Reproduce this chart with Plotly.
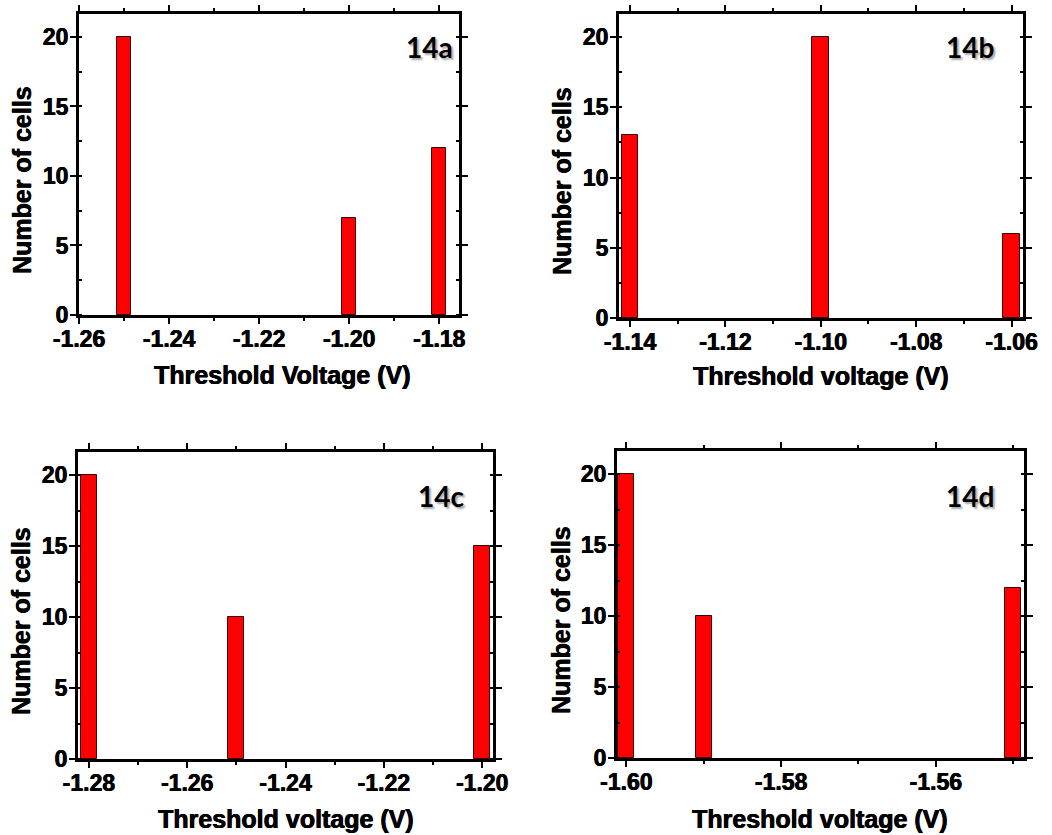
import plotly.graph_objects as go

# Threshold-voltage histograms (counts of cells per voltage bin)
volt_a = [-1.25, -1.20, -1.18]
count_a = [20, 7, 12]
volt_b = [-1.14, -1.10, -1.06]
count_b = [13, 20, 6]
volt_c = [-1.28, -1.25, -1.20]
count_c = [20, 10, 15]
volt_d = [-1.60, -1.59, -1.55]
count_d = [20, 10, 12]

ticks_a = [-1.26, -1.24, -1.22, -1.20, -1.18]
ticklab_a = ["-1.26", "-1.24", "-1.22", "-1.20", "-1.18"]
ticks_b = [-1.14, -1.12, -1.10, -1.08, -1.06]
ticklab_b = ["-1.14", "-1.12", "-1.10", "-1.08", "-1.06"]
ticks_c = [-1.28, -1.26, -1.24, -1.22, -1.20]
ticklab_c = ["-1.28", "-1.26", "-1.24", "-1.22", "-1.20"]
ticks_d = [-1.60, -1.58, -1.56]
ticklab_d = ["-1.60", "-1.58", "-1.56"]

y_ticks = [0, 5, 10, 15, 20]

panel_labels = ["14a", "14b", "14c", "14d"]
x_titles = ["Threshold Voltage (V)", "Threshold voltage (V)",
            "Threshold voltage (V)", "Threshold voltage (V)"]
y_title = "Number of cells"

W, H = 1052, 835


def px_x(p):
    return p / W


def px_y(p):
    return 1 - p / H


def bold(s):
    return "<b>" + s + "</b>"


# pixel boxes of each plot area: left, right, top, bottom
boxes = [
    (79, 459, 14, 315),
    (619, 1023, 14, 318),
    (78, 493, 452, 759),
    (617, 1024, 451, 758),
]
x_ranges = [(-1.26, -1.1756), (-1.1423, -1.0576), (-1.2822, -1.1978), (-1.6012, -1.5486)]
bar_widths = [0.0031, 0.0035, 0.0033, 0.0021]
data = [(volt_a, count_a, ticks_a, ticklab_a),
        (volt_b, count_b, ticks_b, ticklab_b),
        (volt_c, count_c, ticks_c, ticklab_c),
        (volt_d, count_d, ticks_d, ticklab_d)]
x_title_pos = [(282, 375), (821, 376), (286, 819), (820, 819)]
y_title_pos = [(22, 180), (562, 181), (21, 621), (561, 620)]
label_pos = [(429, 47), (970, 47), (441, 496), (970, 496)]

HEAVY = "0.5px 0 0 black, -0.3px 0 0 black"
TICK_FONT = dict(family="Liberation Sans, Arial, sans-serif", size=23, color="black", shadow=HEAVY)
TITLE_FONT = dict(family="Liberation Sans, Arial, sans-serif", size=25, color="black", shadow=HEAVY)
LABEL_FONT = dict(family="Lato, Open Sans, sans-serif", size=28, color="black",
                  shadow="2px 2px 2px rgba(0,0,0,0.35)")

fig = go.Figure()
layout = dict(
    width=W, height=H,
    margin=dict(l=0, r=0, t=0, b=0, pad=0, autoexpand=False),
    paper_bgcolor="white", plot_bgcolor="white",
    showlegend=False,
    bargap=0,
)
annotations = []

for i, ((vx, cy, tv, tl), box, xr, bw) in enumerate(zip(data, boxes, x_ranges, bar_widths)):
    n = "" if i == 0 else str(i + 1)
    xa, ya = "x" + n, "y" + n
    fig.add_trace(go.Bar(
        x=vx, y=cy, width=bw,
        marker=dict(color="#ff0000", line=dict(color="#3a0000", width=1)),
        xaxis=xa, yaxis=ya,
    ))
    left, right, top, bottom = box
    layout["xaxis" + n] = dict(
        domain=[px_x(left), px_x(right)], range=list(xr), anchor=ya,
        automargin=False,
        showline=True, linecolor="black", linewidth=3, mirror="ticks",
        ticks="outside", ticklen=6, tickwidth=2, tickcolor="black",
        tickvals=tv, ticktext=[bold(t) for t in tl], tickfont=TICK_FONT,
        ticklabelstandoff=-5,
        minor=dict(ticks="outside", ticklen=3, tickwidth=1.5, tickcolor="black",
                   tick0=tv[0], dtick=0.01),
        showgrid=False, zeroline=False, fixedrange=True,
    )
    layout["yaxis" + n] = dict(
        domain=[px_y(bottom), px_y(top)], range=[0, 21.65], anchor=xa,
        automargin=False,
        showline=True, linecolor="black", linewidth=3, mirror="ticks",
        ticks="outside", ticklen=6, tickwidth=2, tickcolor="black",
        tickvals=y_ticks, ticktext=[bold(str(v)) for v in y_ticks], tickfont=TICK_FONT,
        ticklabelstandoff=-3,
        minor=dict(ticks="inside", ticklen=3, tickwidth=1.5, tickcolor="black",
                   tick0=0, dtick=2.5),
        showgrid=False, zeroline=False, fixedrange=True,
    )
    tx, ty = x_title_pos[i]
    annotations.append(dict(text=bold(x_titles[i]), x=px_x(tx), y=px_y(ty), xref="paper", yref="paper",
                            showarrow=False, font=TITLE_FONT, xanchor="center", yanchor="middle"))
    yx, yy = y_title_pos[i]
    annotations.append(dict(text=bold(y_title), x=px_x(yx), y=px_y(yy), xref="paper", yref="paper",
                            showarrow=False, font=TITLE_FONT, textangle=-90,
                            xanchor="center", yanchor="middle"))
    lx, ly = label_pos[i]
    annotations.append(dict(text=bold(panel_labels[i]), x=px_x(lx), y=px_y(ly), xref="paper", yref="paper",
                            showarrow=False, font=LABEL_FONT, xanchor="center", yanchor="middle"))

layout["annotations"] = annotations
fig.update_layout(**layout)
fig.write_html("out.html")
